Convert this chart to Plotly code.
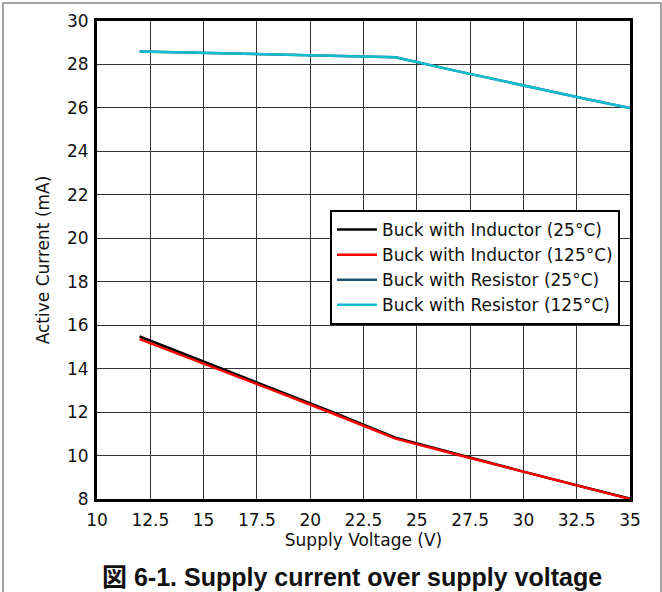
import plotly.graph_objects as go

# supply voltage (V)
voltage = [12, 15, 18, 21, 24, 27, 30, 33, 35]

# active current (mA)
ind_25 = [15.48, 14.33, 13.18, 12.02, 10.82, 10.03, 9.26, 8.51, 8.02]
ind_125 = [15.36, 14.24, 13.10, 11.96, 10.78, 10.01, 9.25, 8.49, 8.00]
res_25 = [28.60, 28.53, 28.46, 28.40, 28.33, 27.67, 27.02, 26.40, 26.00]
res_125 = [28.60, 28.53, 28.46, 28.40, 28.33, 27.67, 27.02, 26.40, 26.00]

x_ticks = [10, 12.5, 15, 17.5, 20, 22.5, 25, 27.5, 30, 32.5, 35]
y_ticks = [8, 10, 12, 14, 16, 18, 20, 22, 24, 26, 28, 30]

font = "DejaVu Sans, Arial, sans-serif"

fig = go.Figure()
fig.add_trace(go.Scatter(x=voltage, y=ind_25, mode="lines", name="Buck with Inductor (25°C)",
                         line=dict(color="#000000", width=2.5)))
fig.add_trace(go.Scatter(x=voltage, y=ind_125, mode="lines", name="Buck with Inductor (125°C)",
                         line=dict(color="#ff0000", width=2.5)))
fig.add_trace(go.Scatter(x=voltage, y=res_25, mode="lines", name="Buck with Resistor (25°C)",
                         line=dict(color="#1d5470", width=2.5)))
fig.add_trace(go.Scatter(x=voltage, y=res_125, mode="lines", name="Buck with Resistor (125°C)",
                         line=dict(color="#14bccf", width=2.5)))

fig.update_layout(
    width=662, height=592,
    margin=dict(l=97, r=32, t=21, b=93),
    paper_bgcolor="white", plot_bgcolor="white",
    font=dict(family=font, size=17, color="#111"),
    xaxis=dict(
        range=[10, 35], tickvals=x_ticks, ticktext=[str(v) for v in x_ticks],
        title=dict(text="Supply Voltage (V)", standoff=2, font=dict(size=17)),
        showgrid=True, gridcolor="#333333", gridwidth=1,
        showline=True, linecolor="black", linewidth=3, mirror=True,
        ticks="", zeroline=False, ticklabelstandoff=4,
    ),
    yaxis=dict(
        range=[8, 30], tickvals=y_ticks,
        title=dict(text="Active Current (mA)", standoff=14, font=dict(size=17)),
        showgrid=True, gridcolor="#333333", gridwidth=1,
        showline=True, linecolor="black", linewidth=3, mirror=True,
        ticks="", zeroline=False, ticklabelstandoff=2,
    ),
    legend=dict(
        x=1 - 10 / 533, y=(499 - 210) / 478, xanchor="right", yanchor="top",
        bgcolor="white", bordercolor="black", borderwidth=2,
        font=dict(size=17, color="#111"), tracegroupgap=0, itemwidth=40,
    ),
    showlegend=True,
)

# outer frame around the figure
fig.add_shape(type="rect", xref="paper", yref="paper",
              x0=(3 - 97) / 533, x1=(661 - 97) / 533,
              y0=(499 - 600) / 478, y1=(499 - 3) / 478,
              line=dict(color="#888", width=1.5), layer="below")

fig.add_annotation(text="<b>図 6-1. Supply current over supply voltage</b>",
                   xref="paper", yref="paper", x=(352 - 97) / 533, y=(499 - 577) / 478,
                   xanchor="center", yanchor="middle", showarrow=False,
                   font=dict(family="Liberation Sans, Noto Sans CJK JP, sans-serif", size=25, color="#111"))

fig.write_html("out.html", config={"displayModeBar": False},
               post_script="document.body.style.margin='0';")
